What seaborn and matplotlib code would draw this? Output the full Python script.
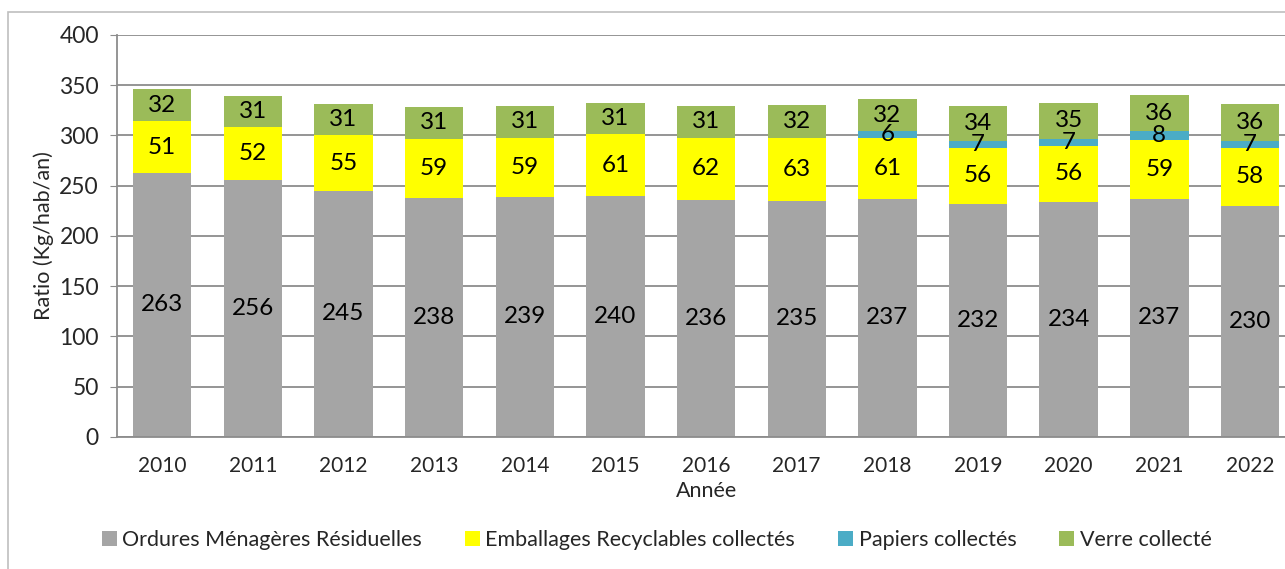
import pandas as pd
import numpy as np
import seaborn as sns
import matplotlib.pyplot as plt
from matplotlib.patches import Rectangle, Patch

years = ["2010", "2011", "2012", "2013", "2014", "2015", "2016",
         "2017", "2018", "2019", "2020", "2021", "2022"]
omr = [263, 256, 245, 238, 239, 240, 236, 235, 237, 232, 234, 237, 230]
emballages = [51, 52, 55, 59, 59, 61, 62, 63, 61, 56, 56, 59, 58]
papiers = [0, 0, 0, 0, 0, 0, 0, 0, 6, 7, 7, 8, 7]
verre = [32, 31, 31, 31, 31, 31, 31, 32, 32, 34, 35, 36, 36]

series = ["Ordures Ménagères Résiduelles", "Emballages Recyclables collectés",
          "Papiers collectés", "Verre collecté"]
colors = ["#A5A5A5", "#FFFF00", "#4BACC6", "#9BBB59"]

df = pd.DataFrame({"Année": years, series[0]: omr, series[1]: emballages,
                   series[2]: papiers, series[3]: verre})

sns.set_style("white")
plt.rcParams['font.family'] = ['Lato', 'DejaVu Sans']

fig = plt.figure(figsize=(12.85, 5.69), dpi=100)
ax = fig.add_axes([0.091, 0.232, 0.917, 0.7065])

# outer chart frame
fig.patches.append(Rectangle((8 / 1285, -0.1), 1.2, 1 - 12 / 569 + 0.1,
                             transform=fig.transFigure, fill=False,
                             edgecolor="#BFBFBF", linewidth=1.2))

bottom = np.zeros(len(years))
for name, col in zip(series, colors):
    sns.barplot(data=df, x="Année", y=name, order=years, color=col,
                bottom=bottom, width=0.645, saturation=1, ax=ax,
                edgecolor="none", linewidth=0)
    vals = df[name].to_numpy()
    labels = [str(v) if v > 0 else "" for v in vals]
    ax.bar_label(ax.containers[-1], labels=labels, label_type="center",
                 fontsize=17.5, color="black")
    bottom = bottom + vals

ax.set_ylim(0, 400)
ax.set_xlim(-0.5, 12.5)
ax.set_yticks(range(0, 401, 50))
ax.yaxis.grid(True, color="#8C8C8C", linewidth=1.3)
ax.set_axisbelow(True)
for s in ["top", "right"]:
    ax.spines[s].set_visible(False)
ax.spines["left"].set_color("#8C8C8C")
ax.spines["bottom"].set_color("#8C8C8C")
ax.spines["left"].set_linewidth(1.3)
ax.spines["bottom"].set_linewidth(1.3)
ax.tick_params(axis="y", labelsize=16.5, length=5, color="#8C8C8C", left=True,
               pad=8)
ax.tick_params(axis="x", labelsize=15, length=0, pad=14)
ax.set_ylabel("Ratio (Kg/hab/an)", fontsize=15.5, labelpad=4)
ax.set_xlabel("Année", fontsize=15.5, labelpad=3)

handles = [Patch(facecolor=c, edgecolor="none") for c in colors]
fig.legend(handles, series, loc="center", bbox_to_anchor=(0.511, 0.051),
           ncol=4, frameon=False, fontsize=15.5, handlelength=0.7,
           handleheight=0.7, handletextpad=0.25, columnspacing=2.0)

plt.savefig("out.png", dpi=100)
